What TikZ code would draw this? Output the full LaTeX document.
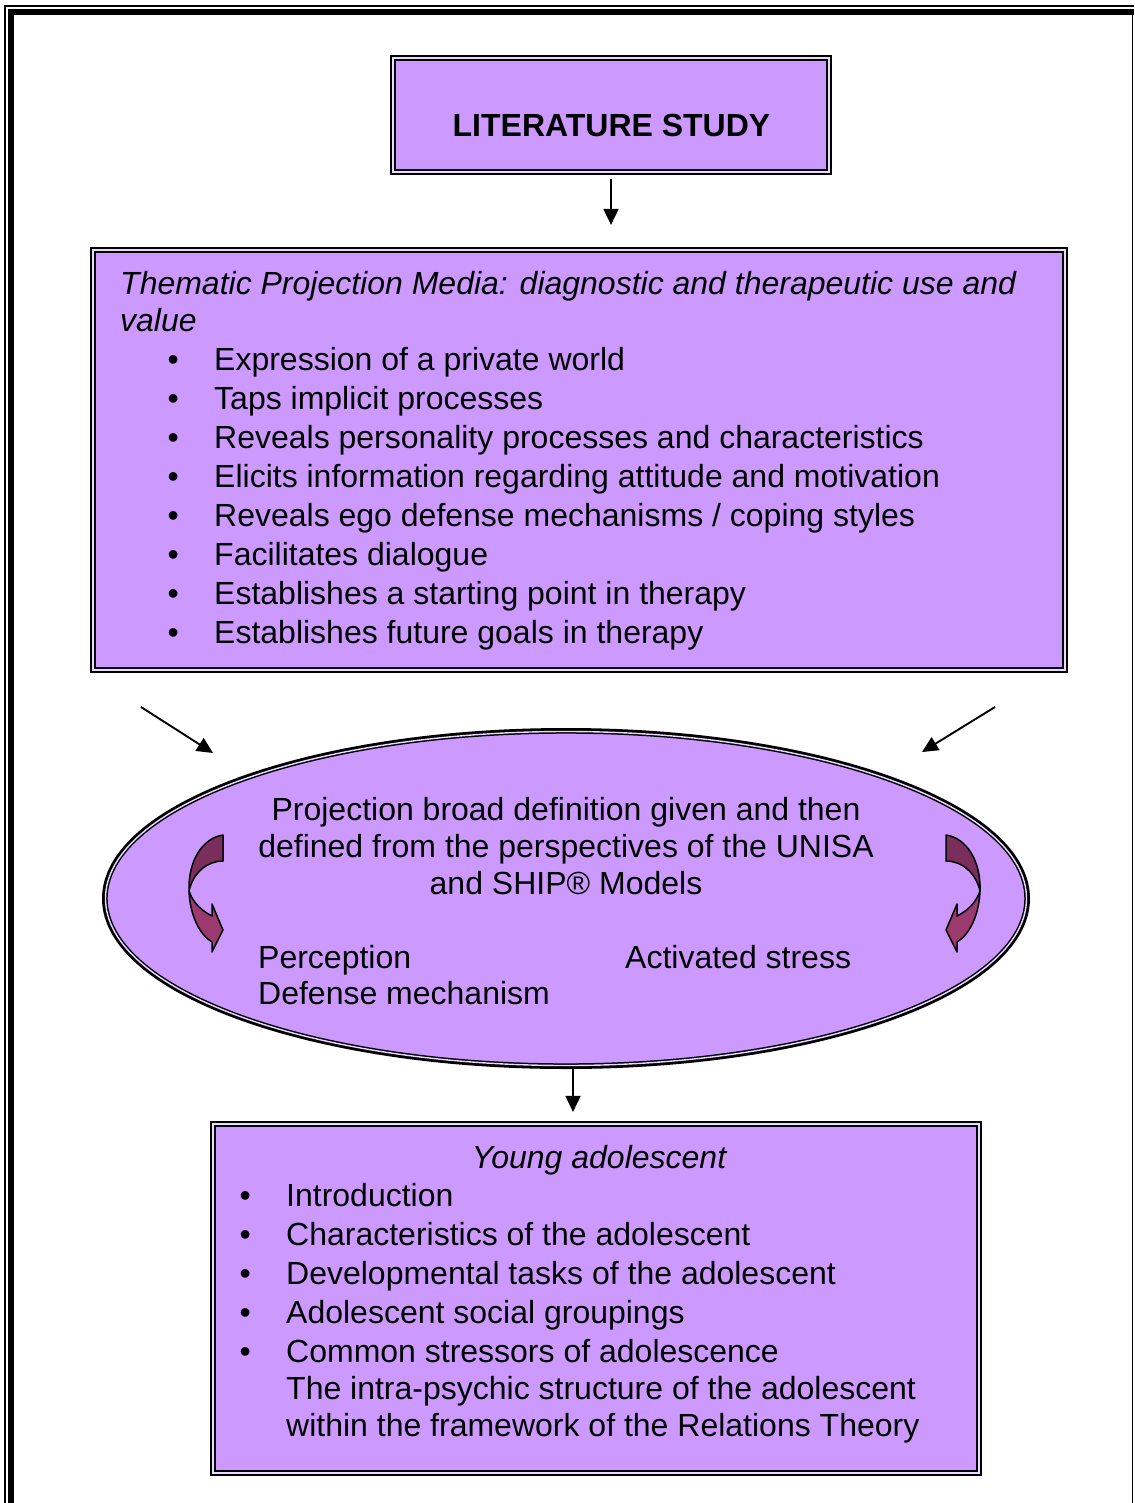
\documentclass[tikz,border=0pt]{standalone}
\usepackage{fontspec}
\setmainfont{Liberation Sans}
\usetikzlibrary{arrows.meta,shapes.geometric}
\definecolor{lav}{HTML}{CC99FF}
\definecolor{lavgap}{HTML}{EADAFF}
\definecolor{plumdark}{HTML}{7A2E5C}
\definecolor{plumlight}{HTML}{9A3A6E}
\newcommand{\itemdot}{\makebox[46.5pt][l]{\textbullet}}
\newcommand{\itemskip}{\hspace*{46.5pt}}
% twisted curved arrow, left-hand version
\newcommand{\bendarrow}{%
  \filldraw[fill=plumdark, draw=black, line width=1.5pt, line join=round]
    (223,835) .. controls (203,838) and (188,860) .. (189,891)
    .. controls (193,873) and (207,861) .. (223,861) -- cycle;
  \filldraw[fill=plumlight, draw=black, line width=1.5pt, line join=round]
    (189,891) .. controls (190,916) and (200,935) .. (212,942)
    -- (212,952) -- (223,930) -- (212,904) -- (212,916)
    .. controls (202,911) and (193,903) .. (189,891) -- cycle;
}
\begin{document}
\begin{tikzpicture}[x=1pt,y=-1pt,
  panel/.style={rectangle, fill=lav, draw=black, line width=2.2pt,
    double=lavgap, double distance=1.6pt, inner sep=0pt},
  oval/.style={ellipse, fill=lav, draw=black, line width=1.5pt,
    double=lavgap, double distance=1.4pt, inner sep=0pt,
    preaction={draw=black, line width=7pt}},
  txt/.style={inner sep=0pt, font=\fontsize{32}{39}\selectfont,
    anchor=base west, align=left},
  conn/.style={line width=1.9pt, -{Triangle[length=16pt,width=15pt]}}]
\useasboundingbox (0,0) rectangle (1134,1503);

% page frame
\draw[line width=1.2pt] (5,1503) -- (5,6) -- (1134,6);
\draw[line width=6pt] (11,1503) -- (11,12) -- (1134,12);
\draw[line width=1.5pt] (1132.5,15) -- (1132.5,1503);

% boxes
\node[panel, minimum width=436pt, minimum height=114pt] (lit) at (611,115) {};
\node[panel, minimum width=972pt, minimum height=420pt] (tpm) at (579,460) {};
\node[oval, minimum width=921pt, minimum height=334pt] (ell) at (566,898.5) {};
\node[panel, minimum width=766pt, minimum height=349pt] (ya) at (596,1298.5) {};

% texts (multi-line nodes are placed by the baseline of their last line)
\node[txt, anchor=base, font=\fontsize{32}{39}\selectfont\bfseries] (littxt) at (611.5,136.5) {LITERATURE STUDY};

\node[txt, font=\fontsize{32}{37}\selectfont\itshape] (tpmtitle) at (120,331)
  {Thematic Projection Media: diagnostic and therapeutic use and\\value};
\node[txt] (tpmlist) at (167.5,643) {%
  \itemdot Expression of a private world\\
  \itemdot Taps implicit processes\\
  \itemdot Reveals personality processes and characteristics\\
  \itemdot Elicits information regarding attitude and motivation\\
  \itemdot Reveals ego defense mechanisms / coping styles\\
  \itemdot Facilitates dialogue\\
  \itemdot Establishes a starting point in therapy\\
  \itemdot Establishes future goals in therapy};

\node[txt, anchor=base, align=center, font=\fontsize{32}{37}\selectfont] (projtxt) at (566,894)
  {Projection broad definition given and then\\defined from the perspectives of the UNISA\\and SHIP® Models};
\node[txt, font=\fontsize{32}{36}\selectfont] (perc) at (258,1004) {Perception\\Defense mechanism};
\node[txt] (stress) at (625,968) {Activated stress};

\node[txt, anchor=base, font=\fontsize{32}{39}\selectfont\itshape] (yatitle) at (599,1168) {Young adolescent};
\node[txt] (yalist) at (239.5,1436) {%
  \itemdot Introduction\\
  \itemdot Characteristics of the adolescent\\
  \itemdot Developmental tasks of the adolescent\\
  \itemdot Adolescent social groupings\\
  \itemdot Common stressors of adolescence\\[-2pt]
  \itemskip The intra-psychic structure of the adolescent\\[-2pt]
  \itemskip within the framework of the Relations Theory};

% curved arrows inside the oval
\bendarrow
\begin{scope}[xshift=1169pt, xscale=-1]
  \bendarrow
\end{scope}

% connectors
\draw[conn, shorten <=6pt, shorten >=24pt] (lit.south) -- (lit.south |- tpm.north);
\coordinate (la) at (141,707);
\coordinate (lb) at (213,753);
\coordinate (ra) at (995,707);
\coordinate (rb) at (922,752);
\draw[conn] (la) -- (lb);
\draw[conn] (ra) -- (rb);
\coordinate (ellfoot) at (573,1068);
\draw[conn, shorten >=11pt] (ellfoot) -- (ellfoot |- ya.north);
\end{tikzpicture}
\end{document}
